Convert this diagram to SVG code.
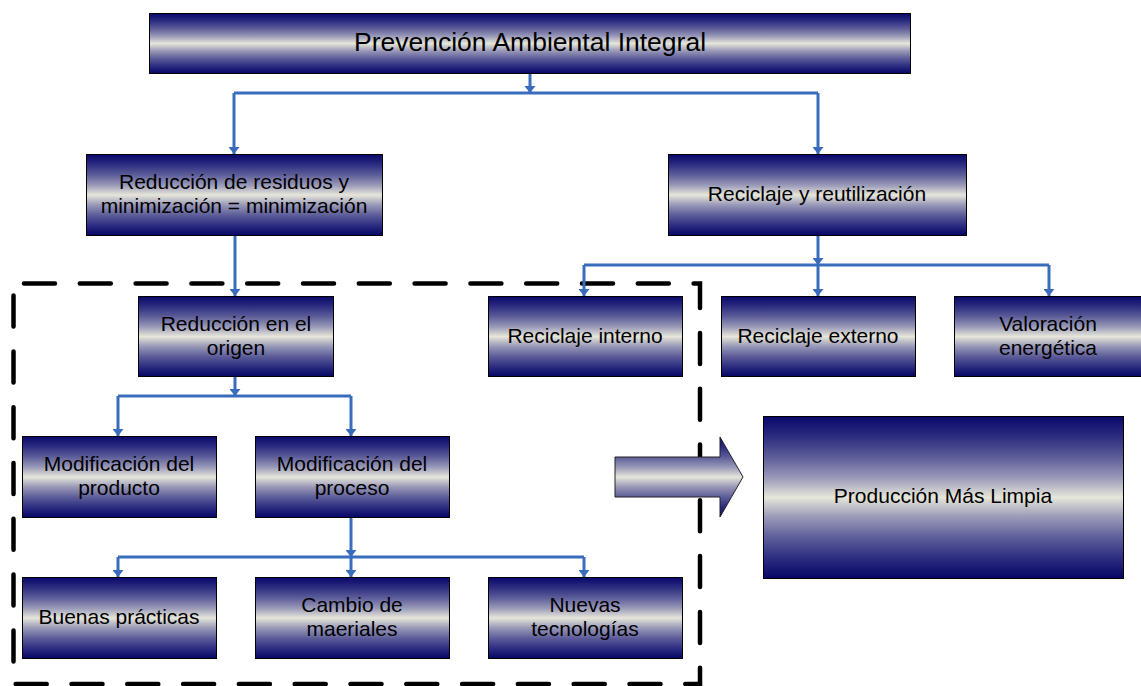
<svg xmlns="http://www.w3.org/2000/svg" width="1141" height="686" viewBox="0 0 1141 686">
<style>
.box{fill:url(#g);stroke:#000;stroke-width:1}
.t{font-family:"Liberation Sans",Arial,sans-serif;font-size:21px;fill:#000;text-anchor:middle}
.title{font-size:26.5px}
.c{fill:none;stroke:#3a6cbd;stroke-width:3}
.a{marker-end:url(#ah)}
</style>
<defs>
<linearGradient id="g" x1="0" y1="0" x2="0" y2="1">
<stop offset="0" stop-color="#08086a"/>
<stop offset="0.12" stop-color="#2b2b80"/>
<stop offset="0.25" stop-color="#5c5c99"/>
<stop offset="0.38" stop-color="#9a9ab9"/>
<stop offset="0.5" stop-color="#e6e6da"/>
<stop offset="0.62" stop-color="#9a9ab9"/>
<stop offset="0.75" stop-color="#5c5c99"/>
<stop offset="0.88" stop-color="#2b2b80"/>
<stop offset="1" stop-color="#050566"/>
</linearGradient>
<marker id="ah" markerUnits="userSpaceOnUse" markerWidth="7" markerHeight="11" viewBox="0 0 7 11" refX="7" refY="5.5" orient="auto">
<path d="M0,0 L7,5.5 L0,11 Z" fill="#3a6cbd"/>
</marker>
</defs>

<g id="scope">
<path d="M13.5,283.5 H700 V684 H13.5 Z" fill="none" stroke="#000" stroke-width="4.5" stroke-linecap="round" stroke-dasharray="31 24.8" stroke-dashoffset="45.3"/>
</g>

<g id="connectors">
<path class="c a" d="M530,73 V93"/>
<path class="c" d="M234,93 H818"/>
<path class="c a" d="M234,93 V154"/>
<path class="c a" d="M818,93 V154"/>
<path class="c a" d="M235,235 V296"/>
<path class="c a" d="M818,235 V265"/>
<path class="c" d="M584,265 H1049"/>
<path class="c a" d="M584,265 V296"/>
<path class="c a" d="M818,265 V296"/>
<path class="c a" d="M1049,265 V296"/>
<path class="c a" d="M235,376 V396"/>
<path class="c" d="M118,396 H351"/>
<path class="c a" d="M118,396 V436"/>
<path class="c a" d="M351,396 V436"/>
<path class="c a" d="M351,517 V557"/>
<path class="c" d="M118,557 H584"/>
<path class="c a" d="M118,557 V577"/>
<path class="c a" d="M351,557 V577"/>
<path class="c a" d="M584,557 V577"/>
</g>

<g id="n-prevencion">
<rect class="box" x="149.5" y="13.5" width="761" height="60"/>
<text class="t title" x="530" y="51">Prevención Ambiental Integral</text>
</g>
<g id="n-reduccion-residuos">
<rect class="box" x="86.5" y="154.5" width="296" height="81"/>
<text class="t" x="234" y="189">Reducción de residuos y</text>
<text class="t" x="234" y="213">minimización = minimización</text>
</g>
<g id="n-reciclaje">
<rect class="box" x="668.5" y="154.5" width="298" height="81"/>
<text class="t" x="817" y="201">Reciclaje y reutilización</text>
</g>
<g id="n-reduccion-origen">
<rect class="box" x="138.5" y="296.5" width="195" height="80"/>
<text class="t" x="236" y="330.5">Reducción en el</text>
<text class="t" x="236" y="354.5">origen</text>
</g>
<g id="n-reciclaje-interno">
<rect class="box" x="488.5" y="296.5" width="194" height="80"/>
<text class="t" x="585" y="343">Reciclaje interno</text>
</g>
<g id="n-reciclaje-externo">
<rect class="box" x="721.5" y="296.5" width="194" height="80"/>
<text class="t" x="818" y="343">Reciclaje externo</text>
</g>
<g id="n-valoracion">
<rect class="box" x="954.5" y="296.5" width="194" height="80"/>
<text class="t" x="1048" y="330.5">Valoración</text>
<text class="t" x="1048" y="354.5">energética</text>
</g>
<g id="n-mod-producto">
<rect class="box" x="22.5" y="436.5" width="194" height="81"/>
<text class="t" x="119" y="471">Modificación del</text>
<text class="t" x="119" y="495">producto</text>
</g>
<g id="n-mod-proceso">
<rect class="box" x="255.5" y="436.5" width="194" height="81"/>
<text class="t" x="352" y="471">Modificación del</text>
<text class="t" x="352" y="495">proceso</text>
</g>
<g id="n-buenas">
<rect class="box" x="22.5" y="577.5" width="194" height="81"/>
<text class="t" x="119" y="624">Buenas prácticas</text>
</g>
<g id="n-cambio">
<rect class="box" x="255.5" y="577.5" width="194" height="81"/>
<text class="t" x="352" y="612">Cambio de</text>
<text class="t" x="352" y="636">maeriales</text>
</g>
<g id="n-nuevas">
<rect class="box" x="488.5" y="577.5" width="194" height="81"/>
<text class="t" x="585" y="612">Nuevas</text>
<text class="t" x="585" y="636">tecnologías</text>
</g>

<g id="big-arrow">
<path d="M615,457 H720 V437 L743,477 L720,517 V497 H615 Z" fill="url(#g)" stroke="#222" stroke-width="1"/>
</g>

<g id="n-pml">
<rect class="box" x="763.5" y="416.5" width="360" height="162"/>
<text class="t" x="943" y="503">Producción Más Limpia</text>
</g>
</svg>
